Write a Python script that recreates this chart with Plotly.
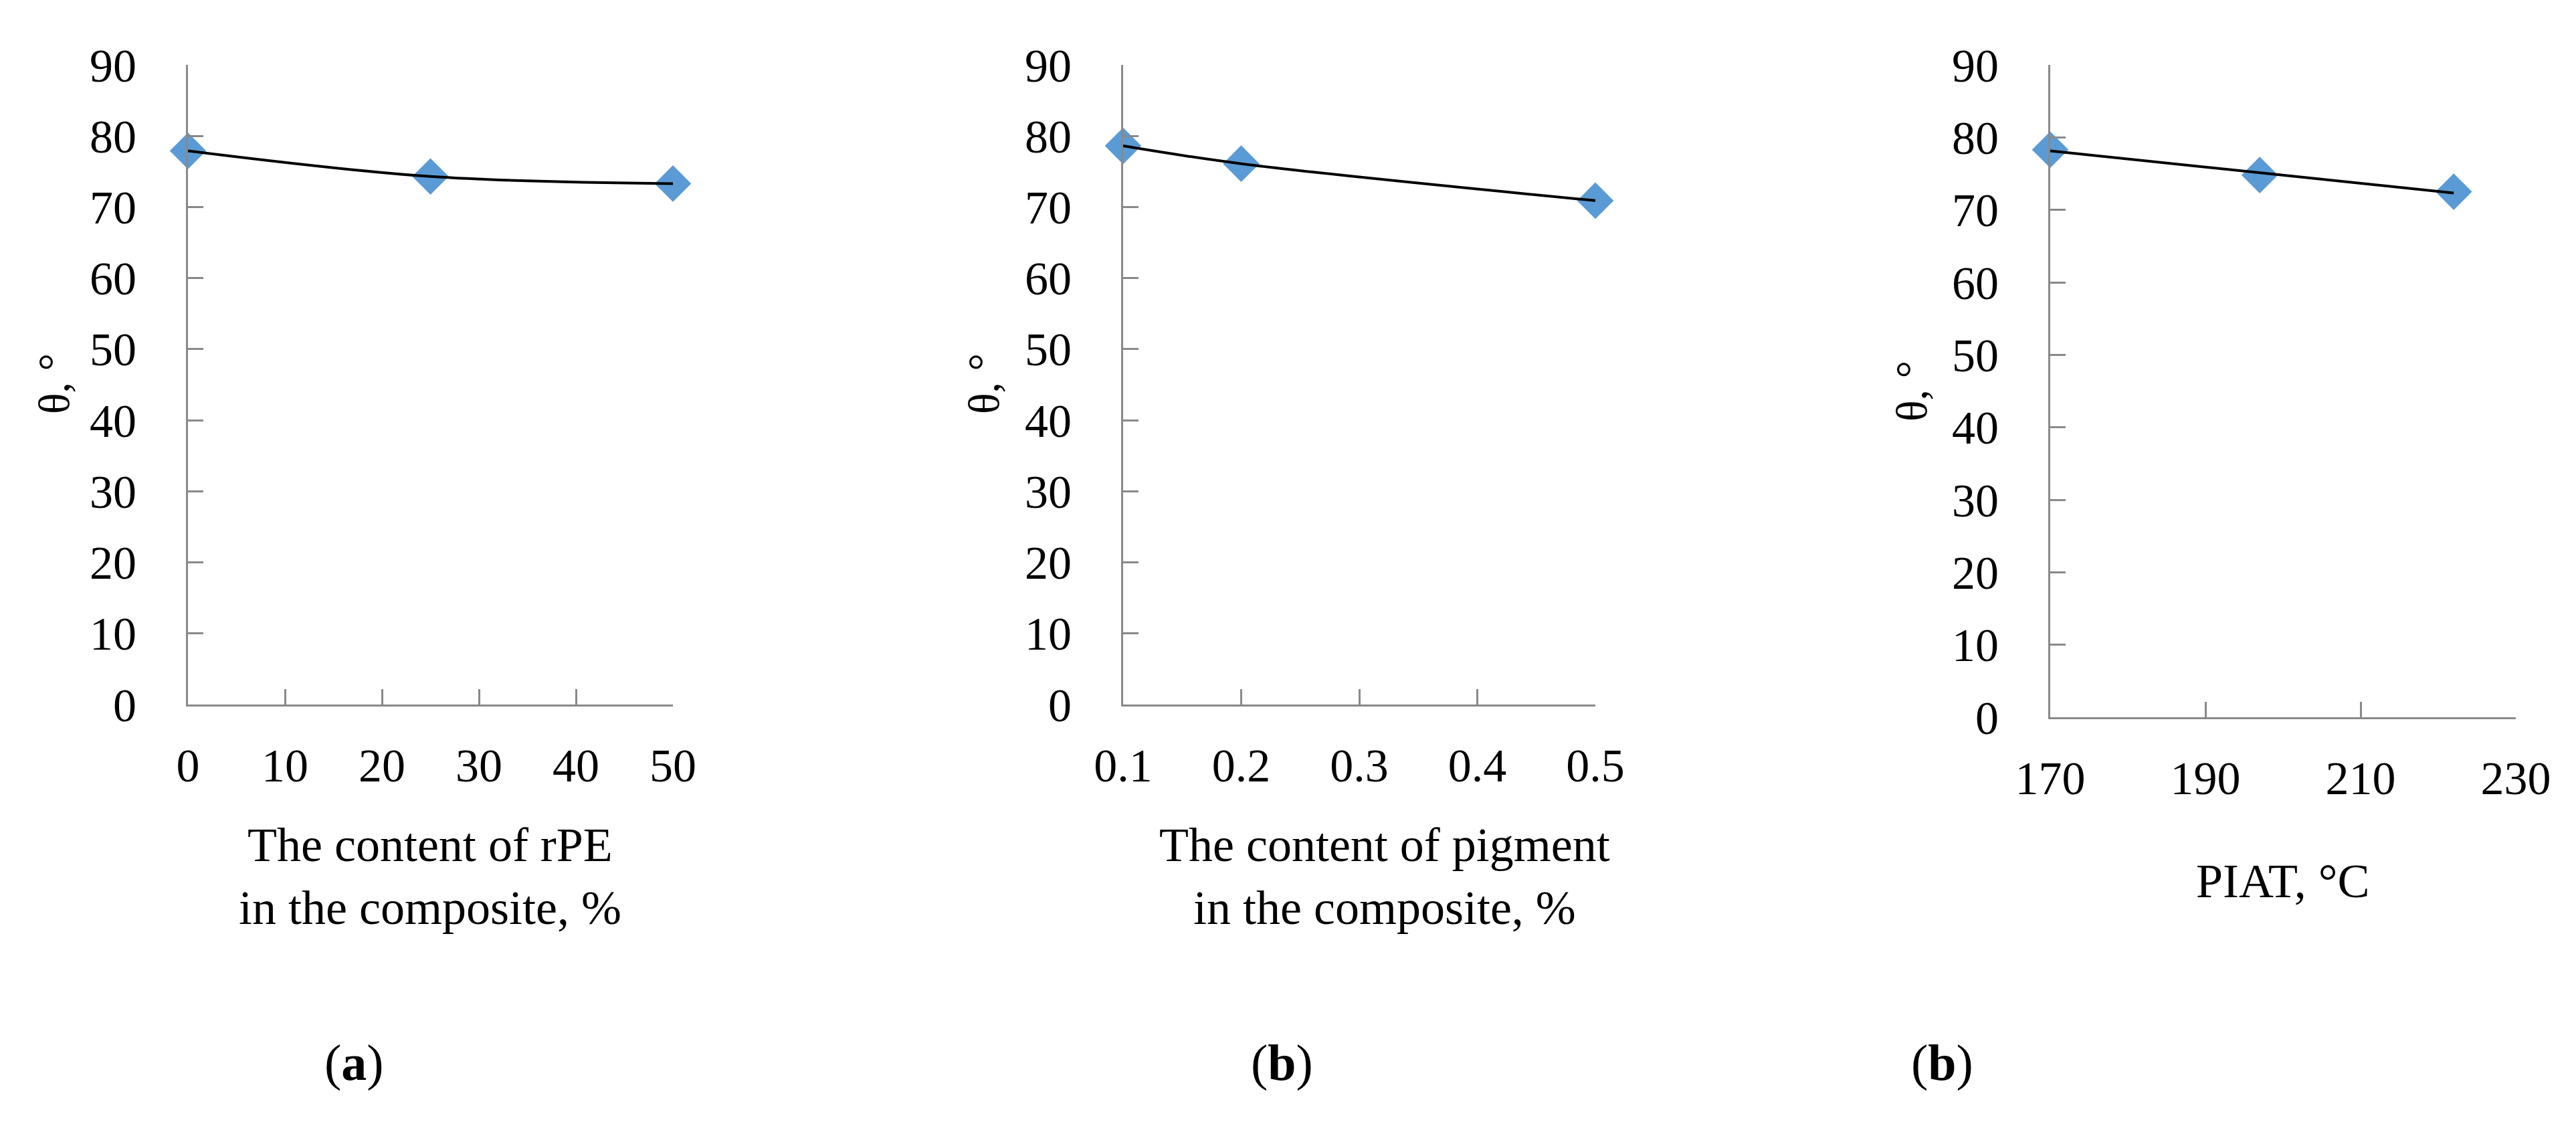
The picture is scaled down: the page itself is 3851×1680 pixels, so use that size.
import numpy as np
import plotly.graph_objects as go

# data
rpe_content = [0, 25, 50]
rpe_angle = [77.9, 74.3, 73.3]

pigment_content = [0.1, 0.2, 0.5]
pigment_angle = [78.6, 76.1, 70.9]

piat_temp = [170, 197, 222]
piat_angle = [78.3, 74.8, 72.5]

x_titles = ["The content of rPE<br>in the composite, %",
            "The content of pigment<br>in the composite, %",
            "PIAT, °C"]
captions = ["(<b>a</b>)", "(<b>b</b>)", "(<b>b</b>)"]
y_title = "θ, °"

W, H = 3851, 1680
FONT = "Liberation Serif, Times New Roman, serif"
BLUE = "#5B9BD5"
AXIS = "#898989"


def px(x):
    return x / W


def py(y):
    return 1 - y / H


fig = go.Figure()

# (a) and (b): smoothed curve through points, (c): linear trend
panels = [
    (rpe_content, rpe_angle, "spline"),
    (pigment_content, pigment_angle, "spline"),
    (piat_temp, piat_angle, "linear"),
]
for i, (xs, ys, shape) in enumerate(panels, start=1):
    xa = "x" if i == 1 else "x%d" % i
    ya = "y" if i == 1 else "y%d" % i
    fig.add_trace(go.Scatter(
        x=xs, y=ys, mode="markers", xaxis=xa, yaxis=ya,
        marker=dict(symbol="diamond", size=42, color=BLUE),
        cliponaxis=False, showlegend=False))
    if shape == "spline":
        fig.add_trace(go.Scatter(
            x=xs, y=ys, mode="lines", xaxis=xa, yaxis=ya,
            line=dict(color="black", width=4, shape="spline", smoothing=1.0),
            cliponaxis=False, showlegend=False))
    else:
        k, b = np.polyfit(xs, ys, 1)
        ends = [xs[0], xs[-1]]
        fig.add_trace(go.Scatter(
            x=ends, y=[k * v + b for v in ends], mode="lines",
            xaxis=xa, yaxis=ya,
            line=dict(color="black", width=4),
            cliponaxis=False, showlegend=False))

axis_common = dict(
    showgrid=False, zeroline=False, showline=True, linecolor=AXIS,
    linewidth=3, ticks="inside", ticklen=23, tickwidth=3, tickcolor=AXIS,
    tickfont=dict(family=FONT, size=70, color="black"),
    automargin=False,
)

x_domains = [(273, 998), (1671, 2377), (3057, 3753)]
x_ranges = [(0, 50), (0.1, 0.5), (170, 230)]
x_dticks = [10, 0.1, 20]
y_bottoms = [1045, 1045, 1064]
y_top = 89

layout = dict(
    width=W, height=H,
    margin=dict(l=0, r=0, t=0, b=0),
    paper_bgcolor="white", plot_bgcolor="white",
    font=dict(family=FONT, color="black"),
)
for i in range(3):
    sx = "xaxis" if i == 0 else "xaxis%d" % (i + 1)
    sy = "yaxis" if i == 0 else "yaxis%d" % (i + 1)
    anchor_y = "y" if i == 0 else "y%d" % (i + 1)
    anchor_x = "x" if i == 0 else "x%d" % (i + 1)
    layout[sx] = dict(axis_common, domain=[px(x_domains[i][0]), px(x_domains[i][1])],
                      range=list(x_ranges[i]), dtick=x_dticks[i], tick0=x_ranges[i][0],
                      anchor=anchor_y, ticklabelstandoff=28)
    layout[sy] = dict(axis_common, domain=[py(y_bottoms[i]), py(y_top)],
                      range=[0, 90], dtick=10, anchor=anchor_x, ticklabelstandoff=60)

fig.update_layout(**layout)
fig.update_xaxes(tickformat=".1f", selector=dict(anchor="y2"))

annotations = []
title_pos = [(635, 1302), (2062, 1302), (3405, 1309)]
caption_x = [521, 1908, 2895]
ytitle_pos = [(72, 566), (1462, 566), (2849, 577)]
for i in range(3):
    annotations.append(dict(
        text=x_titles[i], x=px(title_pos[i][0]), y=py(title_pos[i][1]),
        xref="paper", yref="paper", showarrow=False, xanchor="center",
        yanchor="middle", font=dict(family=FONT, size=72, color="black")))
    annotations.append(dict(
        text=captions[i], x=px(caption_x[i]), y=py(1580),
        xref="paper", yref="paper", showarrow=False, xanchor="center",
        yanchor="middle", font=dict(family=FONT, size=76, color="black")))
    annotations.append(dict(
        text=y_title, x=px(ytitle_pos[i][0]), y=py(ytitle_pos[i][1]),
        xref="paper", yref="paper", showarrow=False, xanchor="center",
        yanchor="middle", textangle=-90,
        font=dict(family=FONT, size=66, color="black")))
fig.update_layout(annotations=annotations)

fig.write_html("out.html")
